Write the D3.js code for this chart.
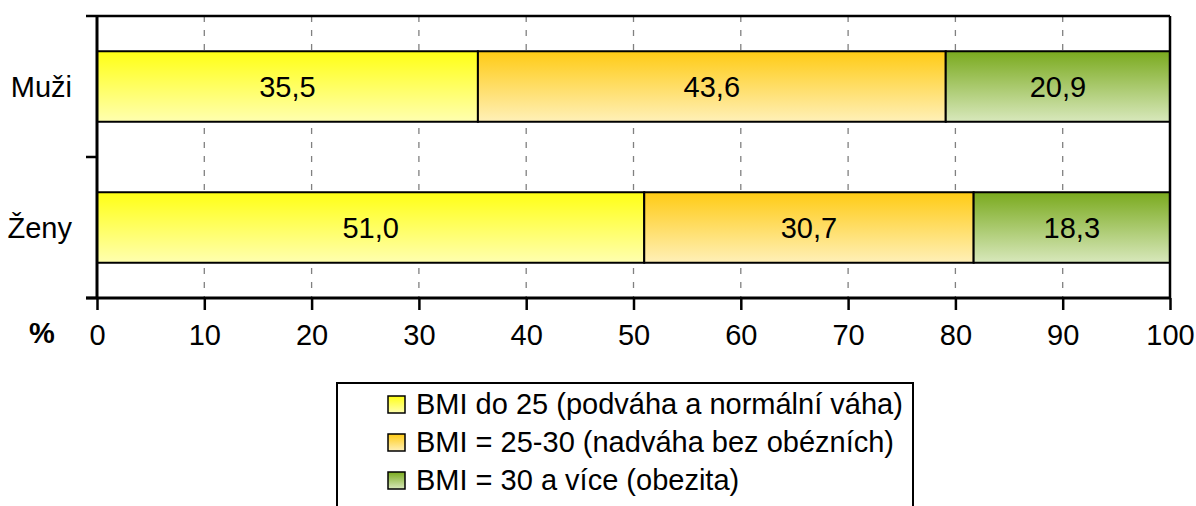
<!DOCTYPE html>
<html>
<head>
<meta charset="utf-8">
<script src="https://cdn.jsdelivr.net/npm/d3@7"></script>
<style>
  body { margin: 0; background: #fff; }
  svg { display: block; font-family: "Liberation Sans", Arial, sans-serif; }
</style>
</head>
<body>
<svg></svg>
<script>
var width = 1196;
var height = 506;

// data
var categories = ["Muži", "Ženy"];
var seriesNames = [
  "BMI do 25 (podváha a normální váha)",
  "BMI = 25-30 (nadváha bez obézních)",
  "BMI = 30 a více (obezita)"
];
var normalWeight = [35.5, 51.0];
var overweight = [43.6, 30.7];
var obese = [20.9, 18.3];
var xTicks = [0, 10, 20, 30, 40, 50, 60, 70, 80, 90, 100];

// gradient colours (top, bottom) per series
var gradTop = ["#ffff14", "#ffcb14", "#7aaa1e"];
var gradBottom = ["#ffffb0", "#fff0b8", "#d8e8bc"];

var rows = categories.map((c, i) => ({
  cat: c, s0: normalWeight[i], s1: overweight[i], s2: obese[i]
}));
var stack = d3.stack().keys(["s0", "s1", "s2"]);
var layers = stack(rows);

var fmt = d3.formatLocale({decimal: ",", thousands: " ", grouping: [3], currency: ["", ""]}).format(".1f");

var fontSize = 29;
var plotLeft = 97, plotRight = 1170, plotTop = 16, plotBottom = 298;

var xScale = d3.scaleLinear().domain([0, 100]).range([plotLeft, plotRight]);
var yScale = d3.scaleBand().domain(categories).range([plotTop, plotBottom])
               .paddingInner(0.5).paddingOuter(0.25);

var svg = d3.select("svg").attr("width", width).attr("height", height);

// gradients
var defs = svg.append("defs");
gradTop.forEach((c, i) => {
  var g = defs.append("linearGradient")
      .attr("id", "grad" + i)
      .attr("x1", 0).attr("y1", 0).attr("x2", 0).attr("y2", 1);
  g.append("stop").attr("offset", "0%").attr("stop-color", c);
  g.append("stop").attr("offset", "100%").attr("stop-color", gradBottom[i]);
});

// dashed gridlines
svg.append("g")
  .selectAll("line")
  .data(xTicks.filter(d => d > 0 && d < 100))
  .enter()
  .append("line")
    .attr("x1", d => xScale(d))
    .attr("x2", d => xScale(d))
    .attr("y1", plotTop)
    .attr("y2", plotBottom)
    .attr("stroke", "#808080")
    .attr("stroke-width", 1.3)
    .attr("stroke-dasharray", "6,8");

// bars
var layer = svg.append("g")
  .selectAll("g")
  .data(layers)
  .enter()
  .append("g")
    .attr("fill", (d, i) => "url(#grad" + i + ")");

layer.selectAll("rect")
  .data(d => d)
  .enter()
  .append("rect")
    .attr("x", d => xScale(d[0]))
    .attr("y", d => yScale(d.data.cat))
    .attr("width", d => xScale(d[1]) - xScale(d[0]))
    .attr("height", yScale.bandwidth())
    .attr("stroke", "#000")
    .attr("stroke-width", 2);

layer.selectAll("text")
  .data(d => d)
  .enter()
  .append("text")
    .attr("x", d => (xScale(d[0]) + xScale(d[1])) / 2)
    .attr("y", d => yScale(d.data.cat) + yScale.bandwidth() / 2 + 10)
    .attr("text-anchor", "middle")
    .attr("font-size", fontSize)
    .attr("fill", "#000")
    .text(d => fmt(d[1] - d[0]));

// plot frame: top and right
svg.append("line")
  .attr("x1", plotLeft).attr("x2", plotRight).attr("y1", plotTop).attr("y2", plotTop)
  .attr("stroke", "#000").attr("stroke-width", 2.5);
svg.append("line")
  .attr("x1", plotRight).attr("x2", plotRight).attr("y1", plotTop).attr("y2", plotBottom)
  .attr("stroke", "#000").attr("stroke-width", 2.5);

// x axis
var xAxis = d3.axisBottom(xScale)
  .tickValues(xTicks)
  .tickSize(12)
  .tickSizeOuter(0)
  .tickPadding(14);

var gx = svg.append("g")
  .attr("transform", "translate(0," + plotBottom + ")")
  .call(xAxis);
gx.select(".domain").attr("stroke-width", 3).attr("d", "M" + (plotLeft - 11) + ",0H" + plotRight);
gx.selectAll(".tick line").attr("stroke-width", 2.5);
gx.selectAll("text")
  .attr("font-size", fontSize)
  .attr("font-family", "Liberation Sans, Arial, sans-serif")
  .attr("fill", "#000");

// y axis: line, boundary ticks and category labels
svg.append("line")
  .attr("x1", plotLeft).attr("x2", plotLeft).attr("y1", plotTop).attr("y2", plotBottom)
  .attr("stroke", "#000").attr("stroke-width", 3);

var bounds = d3.range(categories.length + 1)
  .map(i => plotTop + i * (plotBottom - plotTop) / categories.length);
svg.append("g")
  .selectAll("line")
  .data(bounds)
  .enter()
  .append("line")
    .attr("x1", plotLeft - 11).attr("x2", plotLeft)
    .attr("y1", d => d).attr("y2", d => d)
    .attr("stroke", "#000").attr("stroke-width", 2.5);

svg.append("g")
  .selectAll("text")
  .data(categories)
  .enter()
  .append("text")
    .attr("x", 72)
    .attr("y", d => yScale(d) + yScale.bandwidth() / 2 + 10)
    .attr("text-anchor", "end")
    .attr("font-size", fontSize)
    .text(d => d);

// % label
svg.append("text")
  .attr("x", 42)
  .attr("y", 343)
  .attr("text-anchor", "middle")
  .attr("font-size", fontSize)
  .attr("font-weight", "bold")
  .text("%");

// legend
var legend = svg.append("g");
legend.append("rect")
  .attr("x", 337).attr("y", 383)
  .attr("width", 576).attr("height", 150)
  .attr("fill", "#fff")
  .attr("stroke", "#000")
  .attr("stroke-width", 2);

var item = legend.selectAll(".item")
  .data(seriesNames)
  .enter()
  .append("g")
    .attr("class", "item")
    .attr("transform", (d, i) => "translate(388," + (396 + i * 38) + ")");

item.append("rect")
  .attr("width", 17).attr("height", 17)
  .attr("fill", (d, i) => "url(#grad" + i + ")")
  .attr("stroke", "#000")
  .attr("stroke-width", 1.5);

item.append("text")
  .attr("x", 28)
  .attr("y", 18)
  .attr("font-size", fontSize)
  .text(d => d);
</script>
</body>
</html>
